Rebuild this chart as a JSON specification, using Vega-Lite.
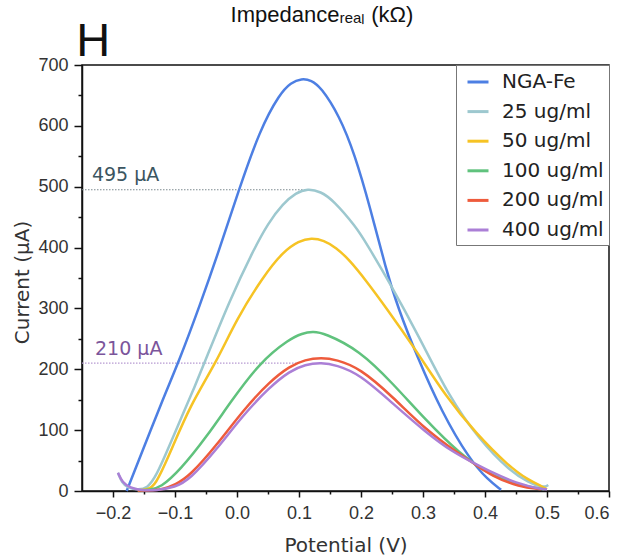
{
  "$schema": "https://vega.github.io/schema/vega-lite/v6.json",
  "width": 527,
  "height": 426,
  "autosize": "none",
  "padding": {"left": 82, "top": 65, "right": 21, "bottom": 66},
  "background": "white",
  "config": {
    "view": {"stroke": "#111", "strokeWidth": 1.5},
    "axis": {
      "grid": false,
      "domainColor": "#111",
      "domainWidth": 1.5,
      "tickColor": "#111",
      "tickWidth": 1.5,
      "labelFont": "Liberation Sans",
      "labelFontSize": 18,
      "labelColor": "#333",
      "titleFont": "DejaVu Sans",
      "titleFontSize": 20,
      "titleFontWeight": "normal",
      "titleColor": "#333"
    },
    "legend": {
      "orient": "top-right",
      "offset": 0,
      "padding": 5,
      "rowPadding": 7.6,
      "symbolOffset": 5,
      "symbolType": "stroke",
      "symbolSize": 441,
      "symbolStrokeWidth": 3,
      "labelFont": "DejaVu Sans",
      "labelFontSize": 20,
      "labelColor": "#222",
      "labelOffset": 12,
      "labelLimit": 300,
      "strokeColor": "#777",
      "fillColor": "white",
      "cornerRadius": 0
    }
  },
  "datasets": {
    "curves": [
      {"s": "NGA-Fe", "v": -0.178, "i": 0},
      {"s": "NGA-Fe", "v": -0.15, "i": 72},
      {"s": "NGA-Fe", "v": -0.12, "i": 150},
      {"s": "NGA-Fe", "v": -0.0925, "i": 216},
      {"s": "NGA-Fe", "v": -0.06, "i": 305},
      {"s": "NGA-Fe", "v": -0.03, "i": 392},
      {"s": "NGA-Fe", "v": 0.002, "i": 492},
      {"s": "NGA-Fe", "v": 0.037, "i": 594},
      {"s": "NGA-Fe", "v": 0.069, "i": 653},
      {"s": "NGA-Fe", "v": 0.087, "i": 671},
      {"s": "NGA-Fe", "v": 0.104, "i": 678},
      {"s": "NGA-Fe", "v": 0.12, "i": 675},
      {"s": "NGA-Fe", "v": 0.135, "i": 664},
      {"s": "NGA-Fe", "v": 0.165, "i": 617},
      {"s": "NGA-Fe", "v": 0.19, "i": 553},
      {"s": "NGA-Fe", "v": 0.215, "i": 465},
      {"s": "NGA-Fe", "v": 0.24, "i": 365},
      {"s": "NGA-Fe", "v": 0.26, "i": 300},
      {"s": "NGA-Fe", "v": 0.29, "i": 222},
      {"s": "NGA-Fe", "v": 0.33, "i": 130},
      {"s": "NGA-Fe", "v": 0.375, "i": 52},
      {"s": "NGA-Fe", "v": 0.405, "i": 18},
      {"s": "NGA-Fe", "v": 0.426, "i": 2},

      {"s": "25 ug/ml", "v": -0.192, "i": 30},
      {"s": "25 ug/ml", "v": -0.186, "i": 14},
      {"s": "25 ug/ml", "v": -0.176, "i": 5},
      {"s": "25 ug/ml", "v": -0.16, "i": 2},
      {"s": "25 ug/ml", "v": -0.145, "i": 4},
      {"s": "25 ug/ml", "v": -0.13, "i": 25},
      {"s": "25 ug/ml", "v": -0.11, "i": 72},
      {"s": "25 ug/ml", "v": -0.09, "i": 120},
      {"s": "25 ug/ml", "v": -0.07, "i": 167},
      {"s": "25 ug/ml", "v": -0.052, "i": 212},
      {"s": "25 ug/ml", "v": -0.012, "i": 313},
      {"s": "25 ug/ml", "v": 0.026, "i": 395},
      {"s": "25 ug/ml", "v": 0.05, "i": 440},
      {"s": "25 ug/ml", "v": 0.074, "i": 472},
      {"s": "25 ug/ml", "v": 0.095, "i": 490},
      {"s": "25 ug/ml", "v": 0.114, "i": 497},
      {"s": "25 ug/ml", "v": 0.135, "i": 492},
      {"s": "25 ug/ml", "v": 0.155, "i": 478},
      {"s": "25 ug/ml", "v": 0.192, "i": 434},
      {"s": "25 ug/ml", "v": 0.208, "i": 408},
      {"s": "25 ug/ml", "v": 0.246, "i": 343},
      {"s": "25 ug/ml", "v": 0.294, "i": 253},
      {"s": "25 ug/ml", "v": 0.342, "i": 155},
      {"s": "25 ug/ml", "v": 0.391, "i": 84},
      {"s": "25 ug/ml", "v": 0.439, "i": 34},
      {"s": "25 ug/ml", "v": 0.47, "i": 14},
      {"s": "25 ug/ml", "v": 0.495, "i": 5},
      {"s": "25 ug/ml", "v": 0.502, "i": 10},

      {"s": "50 ug/ml", "v": -0.16, "i": 1},
      {"s": "50 ug/ml", "v": -0.145, "i": 2},
      {"s": "50 ug/ml", "v": -0.132, "i": 8},
      {"s": "50 ug/ml", "v": -0.108, "i": 62},
      {"s": "50 ug/ml", "v": -0.076, "i": 140},
      {"s": "50 ug/ml", "v": -0.033, "i": 212},
      {"s": "50 ug/ml", "v": -0.001, "i": 282},
      {"s": "50 ug/ml", "v": 0.042, "i": 352},
      {"s": "50 ug/ml", "v": 0.074, "i": 393},
      {"s": "50 ug/ml", "v": 0.1, "i": 411},
      {"s": "50 ug/ml", "v": 0.12, "i": 416},
      {"s": "50 ug/ml", "v": 0.14, "i": 412},
      {"s": "50 ug/ml", "v": 0.16, "i": 400},
      {"s": "50 ug/ml", "v": 0.181, "i": 380},
      {"s": "50 ug/ml", "v": 0.208, "i": 346},
      {"s": "50 ug/ml", "v": 0.24, "i": 302},
      {"s": "50 ug/ml", "v": 0.289, "i": 231},
      {"s": "50 ug/ml", "v": 0.337, "i": 155},
      {"s": "50 ug/ml", "v": 0.385, "i": 95},
      {"s": "50 ug/ml", "v": 0.439, "i": 40},
      {"s": "50 ug/ml", "v": 0.47, "i": 18},
      {"s": "50 ug/ml", "v": 0.493, "i": 7},
      {"s": "50 ug/ml", "v": 0.5, "i": 3},

      {"s": "100 ug/ml", "v": -0.16, "i": 1},
      {"s": "100 ug/ml", "v": -0.14, "i": 2},
      {"s": "100 ug/ml", "v": -0.124, "i": 5},
      {"s": "100 ug/ml", "v": -0.092, "i": 34},
      {"s": "100 ug/ml", "v": -0.049, "i": 89},
      {"s": "100 ug/ml", "v": -0.012, "i": 144},
      {"s": "100 ug/ml", "v": 0.037, "i": 212},
      {"s": "100 ug/ml", "v": 0.085, "i": 250},
      {"s": "100 ug/ml", "v": 0.105, "i": 259},
      {"s": "100 ug/ml", "v": 0.122, "i": 262},
      {"s": "100 ug/ml", "v": 0.14, "i": 260},
      {"s": "100 ug/ml", "v": 0.198, "i": 231},
      {"s": "100 ug/ml", "v": 0.251, "i": 177},
      {"s": "100 ug/ml", "v": 0.305, "i": 116},
      {"s": "100 ug/ml", "v": 0.358, "i": 62},
      {"s": "100 ug/ml", "v": 0.412, "i": 23},
      {"s": "100 ug/ml", "v": 0.466, "i": 7},
      {"s": "100 ug/ml", "v": 0.495, "i": 3},

      {"s": "200 ug/ml", "v": -0.16, "i": 1},
      {"s": "200 ug/ml", "v": -0.135, "i": 1},
      {"s": "200 ug/ml", "v": -0.12, "i": 3},
      {"s": "200 ug/ml", "v": -0.1, "i": 10},
      {"s": "200 ug/ml", "v": -0.076, "i": 25},
      {"s": "200 ug/ml", "v": -0.033, "i": 75},
      {"s": "200 ug/ml", "v": 0.01, "i": 133},
      {"s": "200 ug/ml", "v": 0.053, "i": 180},
      {"s": "200 ug/ml", "v": 0.085, "i": 205},
      {"s": "200 ug/ml", "v": 0.11, "i": 216},
      {"s": "200 ug/ml", "v": 0.136, "i": 219},
      {"s": "200 ug/ml", "v": 0.16, "i": 216},
      {"s": "200 ug/ml", "v": 0.198, "i": 202},
      {"s": "200 ug/ml", "v": 0.251, "i": 155},
      {"s": "200 ug/ml", "v": 0.305, "i": 100},
      {"s": "200 ug/ml", "v": 0.358, "i": 61},
      {"s": "200 ug/ml", "v": 0.38, "i": 47},
      {"s": "200 ug/ml", "v": 0.412, "i": 24},
      {"s": "200 ug/ml", "v": 0.455, "i": 7},
      {"s": "200 ug/ml", "v": 0.49, "i": 3},

      {"s": "400 ug/ml", "v": -0.192, "i": 30},
      {"s": "400 ug/ml", "v": -0.185, "i": 14},
      {"s": "400 ug/ml", "v": -0.172, "i": 5},
      {"s": "400 ug/ml", "v": -0.155, "i": 1},
      {"s": "400 ug/ml", "v": -0.13, "i": 1},
      {"s": "400 ug/ml", "v": -0.1, "i": 6},
      {"s": "400 ug/ml", "v": -0.076, "i": 19},
      {"s": "400 ug/ml", "v": -0.033, "i": 68},
      {"s": "400 ug/ml", "v": 0.01, "i": 125},
      {"s": "400 ug/ml", "v": 0.053, "i": 171},
      {"s": "400 ug/ml", "v": 0.085, "i": 197},
      {"s": "400 ug/ml", "v": 0.11, "i": 208},
      {"s": "400 ug/ml", "v": 0.136, "i": 211},
      {"s": "400 ug/ml", "v": 0.16, "i": 207},
      {"s": "400 ug/ml", "v": 0.198, "i": 192},
      {"s": "400 ug/ml", "v": 0.251, "i": 144},
      {"s": "400 ug/ml", "v": 0.305, "i": 96},
      {"s": "400 ug/ml", "v": 0.348, "i": 64},
      {"s": "400 ug/ml", "v": 0.38, "i": 47},
      {"s": "400 ug/ml", "v": 0.412, "i": 30},
      {"s": "400 ug/ml", "v": 0.45, "i": 13},
      {"s": "400 ug/ml", "v": 0.49, "i": 3},
      {"s": "400 ug/ml", "v": 0.5, "i": 3}
    ],
    "refs": [
      {"k": "a", "v": -0.25, "v2": 0.114, "i": 495},
      {"k": "b", "v": -0.25, "v2": 0.1, "i": 210}
    ],
    "notes": [
      {"k": "a", "t": "495 µA", "v": -0.234, "i": 510},
      {"k": "b", "t": "210 µA", "v": -0.229, "i": 223}
    ],
    "heads": [
      {"k": "tag", "t": "H", "v": -0.232, "i": 714},
      {"k": "title", "t": "Impedanceᵣₑₐₗ (kΩ)", "v": 0.137, "i": 770}
    ]
  },
  "layer": [
    {
      "data": {"name": "curves"},
      "mark": {"type": "point", "opacity": 0},
      "encoding": {
        "x": {
          "field": "v", "type": "quantitative",
          "scale": {"domain": [-0.25, 0.6], "nice": false, "zero": false},
          "axis": {"orient": "bottom", "values": [-0.15, -0.05, 0.05, 0.15, 0.25, 0.35, 0.45, 0.55], "labels": false, "domain": false, "tickSize": 3, "title": null}
        },
        "y": {
          "field": "i", "type": "quantitative",
          "scale": {"domain": [0, 700], "nice": false, "zero": false},
          "axis": {"orient": "left", "values": [50, 150, 250, 350, 450, 550, 650], "labels": false, "domain": false, "tickSize": 4, "title": null}
        }
      }
    },
    {
      "data": {"name": "refs"},
      "mark": {"type": "rule", "strokeWidth": 1.2, "strokeDash": [1.5, 1.5]},
      "encoding": {
        "x": {"field": "v", "type": "quantitative", "axis": null},
        "x2": {"field": "v2"},
        "y": {"field": "i", "type": "quantitative", "axis": null},
        "color": {"condition": {"test": "datum.k === 'a'", "value": "#7d8b90"}, "value": "#b79ad2"}
      }
    },
    {
      "data": {"name": "curves"},
      "mark": {"type": "line", "strokeWidth": 2.5, "interpolate": "basis"},
      "encoding": {
        "x": {
          "field": "v", "type": "quantitative",
          "scale": {"domain": [-0.25, 0.6], "nice": false, "zero": false},
          "axis": {"orient": "bottom", "values": [-0.2, -0.1, 0, 0.1, 0.2, 0.3, 0.4, 0.5, 0.6], "format": ".1f", "tickSize": 6, "labelPadding": 7, "title": "Potential (V)", "titleBaseline": "alphabetic", "titleY": 60}
        },
        "y": {
          "field": "i", "type": "quantitative",
          "scale": {"domain": [0, 700], "nice": false, "zero": false},
          "axis": {"orient": "left", "values": [0, 100, 200, 300, 400, 500, 600, 700], "tickSize": 8, "labelPadding": 6, "title": "Current (µA)", "titleBaseline": "alphabetic", "titleX": -54, "titleY": 217}
        },
        "color": {
          "field": "s", "type": "nominal",
          "scale": {
            "domain": ["NGA-Fe", "25 ug/ml", "50 ug/ml", "100 ug/ml", "200 ug/ml", "400 ug/ml"],
            "range": ["#4d7fe3", "#9dc8cf", "#f6c324", "#60c27d", "#ee5b3c", "#ab7fd6"]
          },
          "legend": {"title": null}
        }
      }
    },
    {
      "data": {"name": "notes"},
      "mark": {"type": "text", "align": "left", "baseline": "alphabetic", "font": "DejaVu Sans", "fontSize": 19},
      "encoding": {
        "x": {"field": "v", "type": "quantitative", "axis": null},
        "y": {"field": "i", "type": "quantitative", "axis": null},
        "text": {"field": "t"},
        "color": {"condition": {"test": "datum.k === 'a'", "value": "#3b5560"}, "value": "#7b559b"}
      }
    },
    {
      "data": {"name": "heads"},
      "mark": {"type": "text", "baseline": "alphabetic", "color": "#111"},
      "encoding": {
        "x": {"field": "v", "type": "quantitative", "axis": null},
        "y": {"field": "i", "type": "quantitative", "axis": null},
        "text": {"field": "t"},
        "align": {"condition": {"test": "datum.k === 'tag'", "value": "left"}, "value": "center"},
        "size": {"condition": {"test": "datum.k === 'tag'", "value": 47}, "value": 22},
        "font": {"condition": {"test": "datum.k === 'tag'", "value": "Liberation Sans"}, "value": "DejaVu Sans"}
      }
    }
  ],
  "resolve": {"axis": {"x": "independent", "y": "independent"}}
}
